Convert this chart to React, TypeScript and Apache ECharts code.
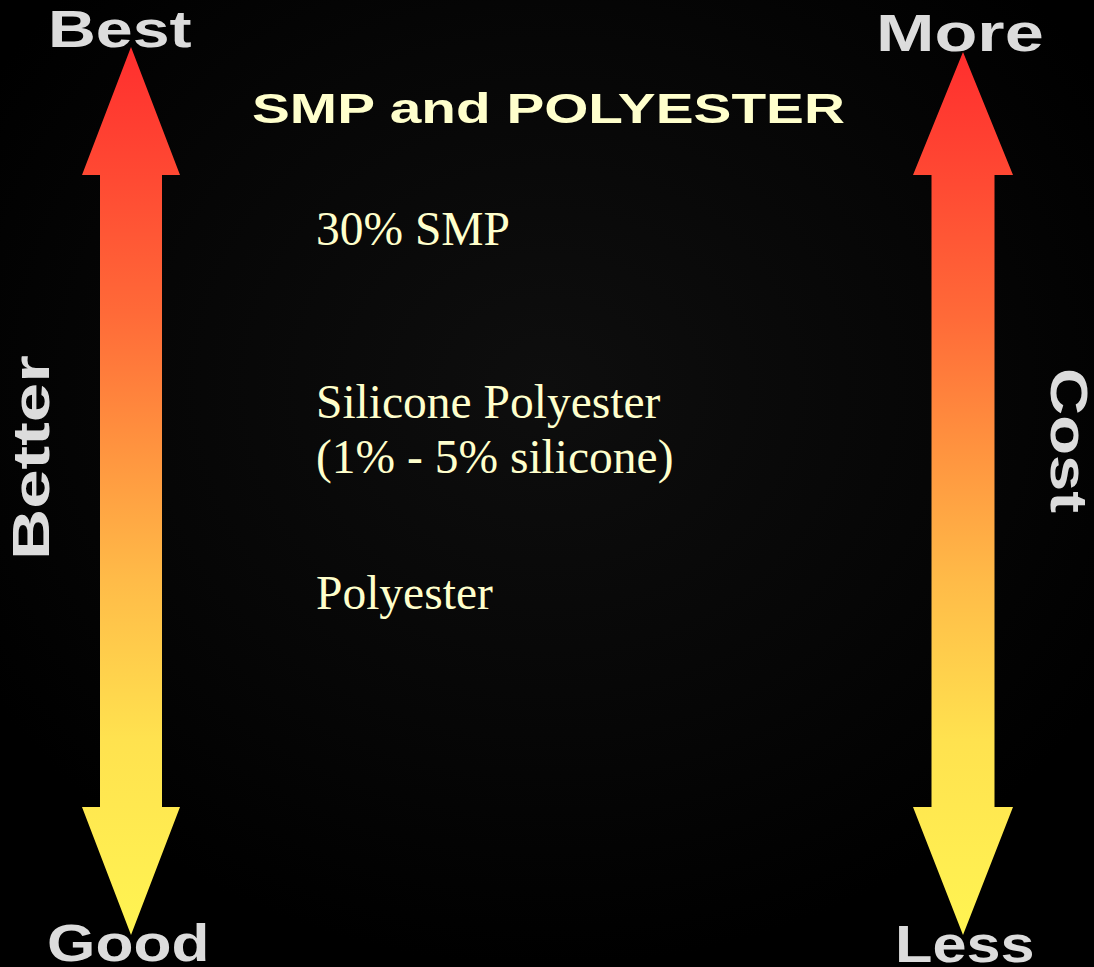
import React, { useEffect, useRef } from "react";
import * as echarts from "echarts";

const titleText = "SMP and POLYESTER";
const materialLines = ["30% SMP", "Silicone Polyester", "(1% - 5% silicone)", "Polyester"];
const qualityLabels = ["Best", "Better", "Good"];
const costLabels = ["More", "Cost", "Less"];

const W = 1094;
const H = 967;

const SANS = '"Liberation Sans", Arial, Helvetica, sans-serif';
const SERIF = '"Liberation Serif", "Times New Roman", Times, serif';
const LABEL_COLOR = "#dcdcdc";
const TEXT_COLOR = "#ffffcc";

function arrowGradient() {
  return new echarts.graphic.LinearGradient(0, 0, 0, 1, [
    { offset: 0, color: "#ff2e2e" },
    { offset: 0.15, color: "#ff4a33" },
    { offset: 0.3, color: "#ff6a38" },
    { offset: 0.45, color: "#ff933f" },
    { offset: 0.6, color: "#ffbb48" },
    { offset: 0.78, color: "#ffe24f" },
    { offset: 1, color: "#fff452" },
  ]);
}

function arrowPoints(cx: number, top: number, bottom: number, headHalf: number, shaftHalf: number, headTopY: number, headBottomY: number) {
  return [
    [cx, top],
    [cx + headHalf, headTopY],
    [cx + shaftHalf, headTopY],
    [cx + shaftHalf, headBottomY],
    [cx + headHalf, headBottomY],
    [cx, bottom],
    [cx - headHalf, headBottomY],
    [cx - shaftHalf, headBottomY],
    [cx - shaftHalf, headTopY],
    [cx - headHalf, headTopY],
  ];
}

function label(text: string, x: number, y: number, size: number, scaleX: number, rotation = 0, font = SANS, color = LABEL_COLOR, weight: any = "bold") {
  return {
    type: "text",
    x,
    y,
    rotation,
    scaleX,
    style: {
      text,
      x: 0,
      y: 0,
      fill: color,
      font: `${weight} ${size}px ${font}`,
      align: "left",
      verticalAlign: "middle",
    },
    silent: true,
  };
}

export default function App() {
  const ref = useRef<HTMLDivElement>(null);

  useEffect(() => {
    if (!ref.current) return;
    const chart = echarts.init(ref.current, null, { renderer: "svg" });

    const bodyY = [229, 402, 457, 593];

    const option: any = {
      animation: false,
      backgroundColor: "#000",
      graphic: [
        {
          type: "rect",
          shape: { x: 0, y: 0, width: W, height: H },
          style: {
            fill: new echarts.graphic.RadialGradient(0.5, 0.4, 0.6, [
              { offset: 0, color: "#0e0e0e" },
              { offset: 0.6, color: "#060606" },
              { offset: 1, color: "#000000" },
            ]),
          },
          silent: true,
        },
        {
          type: "polygon",
          shape: { points: arrowPoints(131, 47, 935, 49, 31, 175, 807) },
          style: { fill: arrowGradient() },
          silent: true,
        },
        {
          type: "polygon",
          shape: { points: arrowPoints(963, 52, 935, 50, 31.5, 175, 807) },
          style: { fill: arrowGradient() },
          silent: true,
        },
        label(qualityLabels[0], 48, 29, 51, 1.3),
        label(qualityLabels[1], 31.5, 560, 51, 1.39, Math.PI / 2),
        label(qualityLabels[2], 47, 944, 51, 1.22),
        label(costLabels[0], 876, 33, 52, 1.35),
        label(costLabels[1], 1069, 368, 51, 1.28, -Math.PI / 2),
        label(costLabels[2], 895, 944, 51, 1.2),
        label(titleText, 252, 108, 43, 1.32, 0, SANS, TEXT_COLOR),
        ...materialLines.map((t, i) => label(t, 316, bodyY[i], 47.5, 1, 0, SERIF, TEXT_COLOR, "normal")),
      ],
    };

    chart.setOption(option);
    return () => chart.dispose();
  }, []);

  return (
    <div
      ref={ref}
      style={{ position: "absolute", left: 0, top: 0, width: W, height: H }}
    />
  );
}
